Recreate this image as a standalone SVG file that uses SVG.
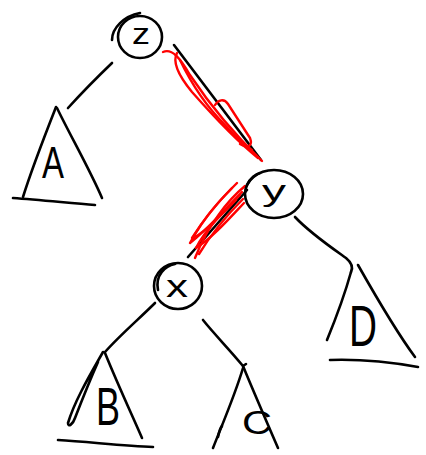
<svg xmlns="http://www.w3.org/2000/svg" width="426" height="455" viewBox="0 0 426 455">
<style>
.k{fill:none;stroke:#000;stroke-width:2.6;stroke-linecap:round;stroke-linejoin:round}
.r{fill:none;stroke:#f00;stroke-width:2.4;stroke-linecap:round;stroke-linejoin:round}
.t{font-family:"Liberation Sans",Arial,sans-serif;fill:#000;text-anchor:middle}
</style>
<rect width="426" height="455" fill="#fff"/>
<g id="connectors">
<path class="k" d="M68,108 Q88,86 112,63"/>
<path class="k" d="M174,45 L261,160"/>
<path class="r" d="M163,52 C172,48 180,58 190,75 C210,105 235,135 262,161"/>
<path class="r" d="M177,53 C172,62 178,75 192,92 C215,118 238,142 258,158"/>
<path class="r" d="M180,60 C192,85 208,108 225,125 C235,136 245,146 252,150"/>
<path class="r" d="M215,105 C218,100 224,98 228,104 L250,138 C253,146 248,149 240,144"/>
<path class="k" d="M188,257 L247,190"/>
<path class="r" d="M237,183 C225,195 205,215 190,243 C205,232 222,212 242,192"/>
<path class="r" d="M245,186 C228,200 208,225 195,258"/>
<path class="r" d="M240,195 C225,210 205,230 196,248 C212,238 228,220 244,203"/>
<path class="r" d="M232,188 C218,202 202,222 192,238 C200,236 215,222 236,200"/>
<path class="r" d="M243,199 C228,214 210,236 199,254"/>
<path class="k" d="M155,303 C140,318 120,335 105,352"/>
<path class="k" d="M203,320 C215,335 230,350 243,366 L246,364"/>
<path class="k" d="M295,217 C310,233 332,248 346,258 C352,263 353,268 351,272"/>
</g>
<g id="node-z">
<ellipse class="k" cx="140" cy="37" rx="22" ry="21"/>
<path class="k" d="M112,40 C112,28 124,16 140,13"/>
<text class="t" x="141" y="44" font-size="29" textLength="18" lengthAdjust="spacingAndGlyphs">z</text>
</g>
<g id="node-y">
<ellipse class="k" cx="274" cy="194" rx="29" ry="24"/>
<path class="k" d="M247,185 C250,178 256,174 260,173"/>
<text class="t" x="274" y="201" font-size="30" textLength="24" lengthAdjust="spacingAndGlyphs">y</text>
</g>
<g id="node-x">
<ellipse class="k" cx="178" cy="286" rx="24" ry="23"/>
<path class="k" d="M158,290 C155,275 165,266 175,264"/>
<text class="t" x="177" y="297" font-size="31" textLength="22" lengthAdjust="spacingAndGlyphs">x</text>
</g>
<g id="tree-A">
<path class="k" d="M56,107 C45,135 32,168 23,197"/>
<path class="k" d="M57,108 C70,135 90,170 102,198"/>
<path class="k" d="M13,198 C40,200 70,203 95,205"/>
<text class="t" x="53" y="178" font-size="44" textLength="22" lengthAdjust="spacingAndGlyphs">A</text>
</g>
<g id="tree-B">
<path class="k" d="M103,352 C90,375 75,400 68,423 C68,428 73,424 75,418 C82,400 90,380 98,362"/>
<path class="k" d="M105,353 C118,385 132,415 142,438"/>
<path class="k" d="M58,440 C90,442 125,446 153,447"/>
<text class="t" x="108" y="425" font-size="54" textLength="24" lengthAdjust="spacingAndGlyphs">B</text>
</g>
<g id="tree-C">
<path class="k" d="M243,368 C235,395 222,425 213,448"/>
<path class="k" d="M218,437 C219,432 220,428 222,426"/>
<path class="k" d="M243,366 C255,395 268,425 278,448"/>
<text class="t" x="257" y="434" font-size="34" textLength="30" lengthAdjust="spacingAndGlyphs">C</text>
</g>
<g id="tree-D">
<path class="k" d="M351,272 C346,290 336,318 327,340"/>
<path class="k" d="M358,265 C375,295 395,330 415,357"/>
<path class="k" d="M330,360 C360,359 390,362 418,367"/>
<text class="t" x="363" y="346" font-size="58" textLength="28" lengthAdjust="spacingAndGlyphs">D</text>
</g>
</svg>
